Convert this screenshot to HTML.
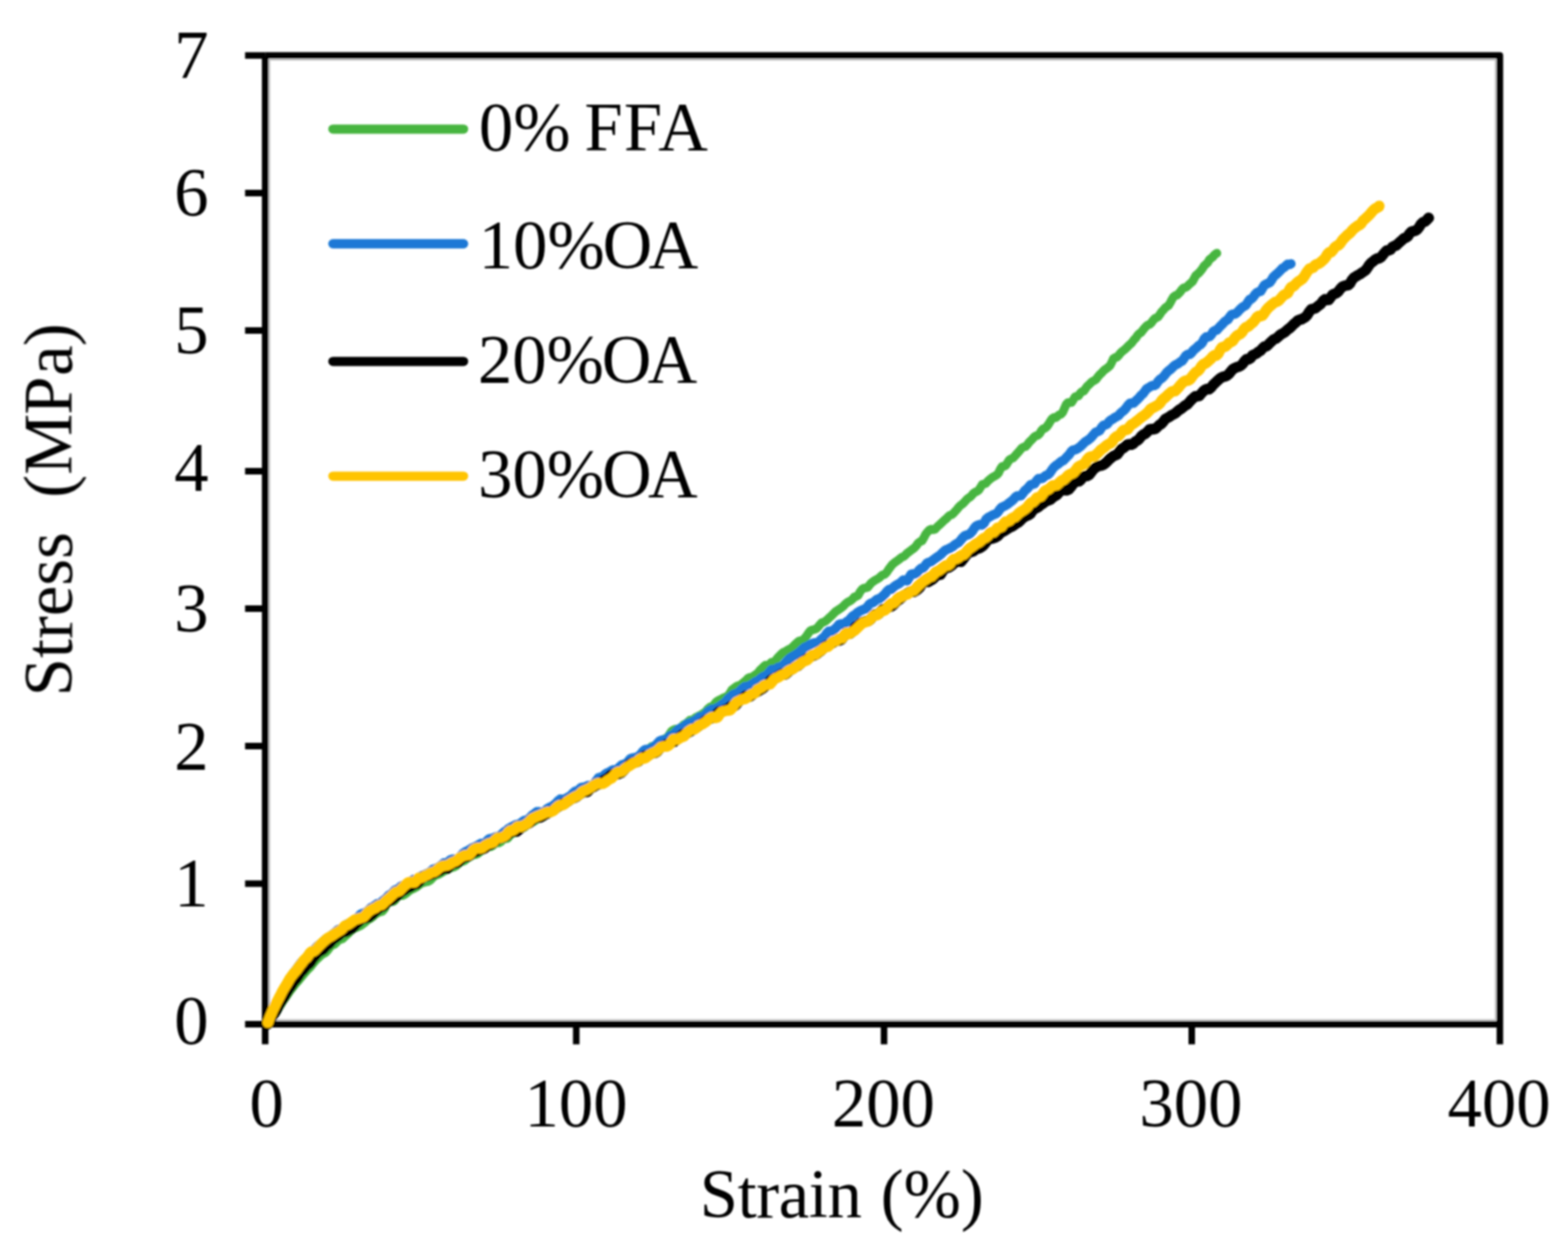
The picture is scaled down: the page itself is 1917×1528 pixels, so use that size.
<!DOCTYPE html>
<html lang="en">
<head>
<meta charset="utf-8">
<title>Stress-strain curves</title>
<style>
html,body{margin:0;padding:0;background:#fff;}
body{width:1917px;height:1528px;overflow:hidden;}
svg{display:block;}
text{font-family:"Liberation Serif",serif;font-size:84px;fill:#000;}
</style>
</head>
<body>
<svg width="1917" height="1528" viewBox="0 0 1917 1528" role="img" aria-label="Stress-strain curves">
<defs><filter id="soft" x="-2%" y="-2%" width="104%" height="104%"><feGaussianBlur stdDeviation="1.1"/></filter></defs>
<rect width="1917" height="1528" fill="#ffffff"/>
<g filter="url(#soft)">
<path d="M329.4,73.0 H1828.5 V1246.8 H329.4 Z" fill="none" stroke="#c4c4c4" stroke-width="2"/>
<g fill="none" stroke="#000" stroke-width="8.0">
<path d="M324.2,67.8 H1833.7 V1252.0" stroke-linejoin="round"/>
<path d="M324.2,67.8 V1276.6" />
<path d="M299.6,1252.0 H1833.7" />
<path d="M299.6,1080.2 H324.2"/>
<path d="M299.6,912.0 H324.2"/>
<path d="M299.6,744.0 H324.2"/>
<path d="M299.6,576.0 H324.2"/>
<path d="M299.6,404.0 H324.2"/>
<path d="M299.6,236.0 H324.2"/>
<path d="M299.6,67.8 H324.2"/>
<path d="M704.5,1252.0 V1276.6"/>
<path d="M1080.8,1252.0 V1276.6"/>
<path d="M1457.0,1252.0 V1276.6"/>
<path d="M1833.7,1252.0 V1276.6"/>
</g>
<g fill="none" stroke-linecap="round" stroke-linejoin="round">
<path stroke="#47b53f" stroke-width="10.6" d="M327.5,1252.4 L329.0,1249.8 L330.6,1247.1 L332.3,1244.7 L334.2,1242.4 L336.0,1239.9 L337.5,1237.6 L339.0,1235.0 L340.5,1232.3 L342.1,1229.9 L343.7,1227.3 L345.3,1224.5 L347.0,1221.9 L348.7,1219.7 L350.4,1217.4 L352.2,1214.7 L354.0,1212.2 L355.7,1209.8 L357.5,1207.6 L359.3,1205.2 L361.1,1202.8 L363.0,1200.8 L364.9,1198.7 L366.8,1196.3 L368.8,1193.9 L370.9,1191.3 L372.9,1188.9 L375.0,1186.6 L377.0,1184.6 L379.0,1182.6 L380.9,1180.0 L382.9,1177.6 L384.9,1175.2 L387.0,1172.9 L389.2,1171.0 L391.3,1169.0 L393.5,1166.9 L395.7,1165.7 L397.9,1164.6 L400.2,1162.2 L402.4,1159.2 L404.6,1156.5 L406.8,1155.1 L409.1,1154.2 L411.5,1151.9 L413.8,1149.3 L416.2,1148.5 L418.6,1147.6 L421.0,1145.3 L423.4,1143.1 L425.9,1141.0 L428.3,1138.4 L430.8,1136.2 L433.3,1134.8 L435.7,1133.8 L438.2,1132.8 L440.6,1131.7 L443.1,1129.9 L445.6,1128.0 L448.0,1125.8 L450.5,1123.8 L452.9,1122.8 L455.4,1120.9 L457.8,1118.5 L460.2,1116.8 L462.6,1115.4 L465.0,1114.7 L467.4,1114.1 L469.7,1111.4 L472.1,1106.4 L474.5,1103.2 L476.9,1102.6 L479.3,1102.3 L481.8,1101.4 L484.3,1098.4 L486.8,1095.1 L489.4,1094.7 L492.0,1094.7 L494.6,1093.4 L497.1,1091.6 L499.7,1089.4 L502.3,1087.6 L504.9,1086.6 L507.4,1085.3 L510.0,1083.7 L512.6,1081.6 L515.2,1079.9 L517.9,1078.9 L520.5,1078.2 L523.1,1077.6 L525.8,1076.3 L528.4,1073.6 L531.0,1071.0 L533.6,1069.6 L536.3,1068.8 L538.9,1067.4 L541.5,1065.6 L544.2,1064.0 L546.8,1062.7 L549.5,1061.7 L552.1,1060.6 L554.8,1059.9 L557.4,1058.6 L560.0,1056.1 L562.7,1053.8 L565.3,1053.1 L568.0,1052.0 L570.6,1049.6 L573.3,1048.1 L575.9,1046.7 L578.6,1044.8 L581.2,1044.6 L583.9,1043.7 L586.5,1041.5 L589.1,1039.6 L591.8,1037.7 L594.4,1036.0 L597.0,1034.9 L599.6,1035.0 L602.2,1033.9 L604.9,1031.4 L607.5,1029.9 L610.1,1030.4 L612.7,1028.7 L615.3,1025.4 L617.9,1025.2 L620.5,1024.9 L623.1,1021.7 L625.7,1019.0 L628.3,1018.3 L630.9,1016.5 L633.5,1013.8 L636.0,1012.4 L638.6,1012.4 L641.2,1011.3 L643.8,1009.0 L646.4,1007.1 L649.0,1005.5 L651.6,1004.7 L654.1,1003.2 L656.7,1001.2 L659.3,1000.1 L661.9,999.5 L664.4,998.2 L667.0,996.2 L669.6,994.1 L672.2,992.6 L674.7,991.3 L677.3,989.9 L679.9,988.1 L682.4,984.8 L685.0,982.4 L687.6,983.7 L690.1,984.1 L692.7,981.1 L695.3,978.2 L697.8,976.3 L700.4,974.8 L702.9,972.8 L705.5,970.5 L708.0,968.8 L710.6,967.6 L713.1,966.7 L715.7,965.6 L718.2,964.2 L720.8,962.9 L723.3,961.7 L725.8,960.9 L728.4,958.8 L730.9,954.9 L733.4,953.2 L736.0,954.5 L738.5,953.9 L741.0,950.5 L743.6,947.7 L746.1,946.7 L748.6,945.7 L751.2,943.7 L753.7,941.8 L756.2,939.2 L758.7,937.0 L761.2,936.5 L763.8,936.2 L766.3,934.7 L768.8,931.9 L771.3,929.7 L773.8,928.8 L776.3,927.4 L778.8,925.5 L781.4,924.1 L783.9,923.1 L786.4,922.0 L788.9,921.0 L791.4,919.1 L793.9,915.6 L796.4,912.5 L798.8,911.8 L801.3,911.2 L803.8,910.0 L806.3,908.0 L808.8,905.7 L811.3,903.8 L813.8,902.6 L816.3,901.1 L818.7,897.2 L821.2,893.6 L823.7,892.2 L826.2,891.2 L828.7,891.1 L831.1,891.1 L833.6,888.2 L836.1,885.6 L838.5,885.0 L841.0,882.5 L843.5,880.4 L845.9,880.3 L848.4,878.8 L850.9,876.9 L853.3,875.8 L855.8,874.5 L858.3,873.0 L860.7,871.4 L863.2,869.5 L865.6,866.3 L868.1,864.3 L870.5,864.0 L873.0,861.3 L875.4,858.3 L877.9,856.4 L880.3,855.2 L882.7,854.1 L885.2,852.7 L887.6,851.9 L890.0,850.5 L892.5,847.0 L894.9,843.2 L897.3,841.3 L899.8,839.5 L902.2,838.2 L904.6,837.8 L907.0,836.0 L909.5,833.9 L911.9,831.9 L914.3,829.2 L916.7,828.0 L919.1,827.9 L921.6,826.3 L924.0,824.5 L926.4,822.9 L928.8,819.7 L931.2,817.4 L933.6,814.9 L936.0,813.0 L938.4,813.7 L940.8,812.0 L943.2,809.6 L945.6,809.4 L948.0,807.6 L950.4,804.4 L952.8,801.9 L955.2,799.5 L957.5,797.5 L959.9,796.6 L962.3,795.0 L964.7,793.6 L967.1,792.6 L969.5,790.4 L971.8,788.1 L974.2,785.8 L976.6,783.8 L979.0,783.3 L981.3,782.5 L983.7,780.3 L986.1,777.4 L988.4,773.9 L990.8,771.0 L993.2,769.9 L995.5,769.6 L997.9,768.4 L1000.2,766.4 L1002.6,763.4 L1004.9,761.0 L1007.3,760.3 L1009.6,759.0 L1012.0,756.8 L1014.3,754.6 L1016.7,752.7 L1019.0,750.2 L1021.4,747.8 L1023.7,746.3 L1026.0,744.8 L1028.4,743.1 L1030.7,741.3 L1033.0,738.8 L1035.4,736.8 L1037.7,735.4 L1040.0,734.2 L1042.4,732.2 L1044.7,729.6 L1047.0,729.0 L1049.3,727.6 L1051.6,723.3 L1054.0,720.3 L1056.3,718.9 L1058.6,718.5 L1060.9,717.9 L1063.2,715.0 L1065.5,712.3 L1067.8,710.7 L1070.1,709.1 L1072.5,707.8 L1074.8,706.5 L1077.1,704.2 L1079.3,702.6 L1081.6,702.2 L1083.9,699.8 L1086.2,696.3 L1088.5,693.3 L1090.8,690.3 L1093.1,688.3 L1095.4,686.6 L1097.7,684.9 L1099.9,683.2 L1102.2,681.4 L1104.5,680.4 L1106.8,678.7 L1109.1,676.2 L1111.3,674.6 L1113.6,672.8 L1115.9,671.2 L1118.1,669.5 L1120.4,666.9 L1122.7,663.6 L1124.9,662.2 L1127.2,661.2 L1129.5,657.3 L1131.7,653.0 L1134.0,650.2 L1136.2,647.9 L1138.5,646.9 L1140.8,647.5 L1143.0,647.1 L1145.3,644.7 L1147.5,642.4 L1149.8,640.4 L1152.0,638.3 L1154.3,636.2 L1156.5,634.4 L1158.7,632.2 L1161.0,630.0 L1163.2,629.3 L1165.5,627.7 L1167.7,625.1 L1169.9,622.8 L1172.2,619.9 L1174.4,617.6 L1176.6,616.2 L1178.8,614.1 L1181.1,611.5 L1183.3,609.2 L1185.5,607.9 L1187.7,606.0 L1190.0,603.1 L1192.2,601.6 L1194.4,600.6 L1196.6,599.1 L1198.8,595.7 L1201.0,592.1 L1203.2,591.6 L1205.5,590.7 L1207.7,588.1 L1209.9,586.1 L1212.1,584.4 L1214.3,582.9 L1216.5,581.8 L1218.7,580.4 L1220.9,577.9 L1223.1,573.3 L1225.3,570.1 L1227.5,570.0 L1229.7,568.9 L1231.9,565.4 L1234.1,562.0 L1236.3,560.7 L1238.5,559.8 L1240.6,557.6 L1242.8,555.2 L1245.0,552.7 L1247.2,550.1 L1249.4,547.6 L1251.6,546.4 L1253.7,545.9 L1255.9,543.7 L1258.1,540.8 L1260.3,538.6 L1262.5,536.3 L1264.6,533.9 L1266.8,532.7 L1269.0,532.1 L1271.1,530.0 L1273.3,526.3 L1275.5,524.1 L1277.7,523.4 L1279.8,521.5 L1282.0,518.5 L1284.1,515.0 L1286.3,511.7 L1288.5,510.4 L1290.6,510.5 L1292.8,509.0 L1294.9,507.0 L1297.1,506.4 L1299.2,504.2 L1301.4,499.1 L1303.6,494.2 L1305.7,492.1 L1307.9,492.1 L1310.0,492.0 L1312.1,488.9 L1314.3,485.0 L1316.4,484.4 L1318.6,484.0 L1320.7,480.7 L1322.9,478.6 L1325.0,478.1 L1327.1,475.1 L1329.3,472.0 L1331.4,470.2 L1333.6,468.0 L1335.7,466.1 L1337.8,465.3 L1340.0,463.7 L1342.1,460.9 L1344.2,458.3 L1346.3,456.4 L1348.5,453.9 L1350.6,452.0 L1352.7,450.6 L1354.8,449.0 L1357.0,447.1 L1359.1,443.1 L1361.2,438.5 L1363.3,437.1 L1365.4,436.8 L1367.6,434.6 L1369.7,431.8 L1371.8,429.7 L1373.9,428.1 L1376.0,426.4 L1378.1,424.4 L1380.2,422.1 L1382.3,420.4 L1384.5,417.9 L1386.6,415.1 L1388.7,413.1 L1390.8,409.9 L1392.9,407.7 L1395.0,406.4 L1397.1,403.7 L1399.2,401.1 L1401.3,398.9 L1403.4,397.2 L1405.5,396.5 L1407.6,394.6 L1409.7,391.6 L1411.8,389.4 L1413.9,388.4 L1416.0,387.3 L1418.1,384.3 L1420.2,381.0 L1422.3,379.0 L1424.3,376.5 L1426.4,374.9 L1428.5,373.6 L1430.6,370.2 L1432.7,366.2 L1434.8,362.8 L1436.9,361.4 L1439.0,360.7 L1441.0,358.9 L1443.1,356.6 L1445.2,353.6 L1447.3,351.7 L1449.4,351.5 L1451.4,350.3 L1453.5,348.0 L1455.6,346.2 L1457.7,344.5 L1459.7,341.0 L1461.8,337.0 L1463.9,335.1 L1465.9,333.5 L1468.0,331.1 L1470.1,328.3 L1472.2,324.9 L1474.2,323.1 L1476.3,321.3 L1478.4,317.7 L1480.4,315.8 L1482.5,314.4 L1484.5,311.9 L1486.6,310.2 L1487.7,309.5"/>
<path stroke="#1a78d6" stroke-width="11.6" d="M327.5,1250.0 L328.6,1247.0 L329.7,1244.2 L330.8,1241.6 L332.0,1238.7 L333.2,1235.9 L334.4,1233.3 L335.6,1230.4 L336.9,1227.6 L338.3,1225.1 L339.6,1222.7 L341.0,1220.3 L342.3,1217.3 L343.7,1214.4 L345.1,1211.8 L346.6,1209.2 L348.0,1206.7 L349.5,1204.2 L351.0,1201.4 L352.6,1198.7 L354.2,1196.1 L355.9,1193.8 L357.7,1191.4 L359.4,1188.7 L361.2,1186.3 L363.0,1183.9 L364.8,1181.3 L366.6,1178.6 L368.5,1176.3 L370.5,1174.4 L372.5,1172.9 L374.5,1170.8 L376.6,1167.6 L378.6,1165.6 L380.7,1164.4 L382.8,1162.6 L385.0,1160.0 L387.2,1157.3 L389.4,1155.6 L391.7,1153.9 L394.1,1152.0 L396.4,1149.7 L398.7,1147.7 L401.1,1147.1 L403.4,1145.6 L405.8,1142.9 L408.2,1140.9 L410.6,1138.9 L413.1,1136.7 L415.6,1135.7 L418.2,1134.6 L420.7,1132.3 L423.2,1130.3 L425.7,1129.0 L428.2,1128.2 L430.8,1126.8 L433.3,1124.4 L435.8,1122.8 L438.3,1120.6 L440.9,1117.7 L443.4,1116.5 L445.9,1115.8 L448.5,1114.6 L451.0,1112.3 L453.5,1109.6 L456.1,1108.5 L458.6,1106.7 L461.0,1104.9 L463.4,1104.7 L465.8,1103.4 L468.2,1101.0 L470.5,1099.3 L472.9,1097.2 L475.2,1094.6 L477.6,1093.2 L480.0,1091.4 L482.5,1088.2 L485.0,1087.3 L487.5,1086.4 L490.1,1083.4 L492.7,1082.4 L495.2,1082.3 L497.8,1081.9 L500.4,1080.4 L503.0,1077.0 L505.6,1075.1 L508.2,1075.7 L510.8,1074.6 L513.5,1071.9 L516.1,1070.5 L518.7,1069.6 L521.4,1068.2 L524.0,1067.1 L526.7,1065.1 L529.3,1062.6 L532.0,1062.0 L534.6,1061.0 L537.3,1059.4 L539.9,1057.4 L542.6,1054.9 L545.2,1054.8 L547.9,1053.7 L550.5,1051.2 L553.2,1050.2 L555.9,1050.3 L558.5,1050.9 L561.2,1049.5 L563.8,1045.9 L566.5,1042.8 L569.2,1041.1 L571.8,1039.9 L574.5,1038.3 L577.1,1036.6 L579.8,1035.5 L582.4,1034.4 L585.1,1032.8 L587.8,1031.0 L590.4,1031.0 L593.1,1030.9 L595.7,1027.5 L598.3,1025.3 L601.0,1025.1 L603.6,1024.0 L606.3,1023.1 L608.9,1022.7 L611.5,1021.6 L614.2,1019.1 L616.8,1016.7 L619.4,1015.1 L622.1,1012.7 L624.7,1011.2 L627.3,1009.9 L629.9,1008.5 L632.6,1008.0 L635.2,1007.2 L637.8,1005.3 L640.4,1003.2 L643.1,1002.6 L645.7,1001.7 L648.3,999.0 L650.9,996.4 L653.5,994.7 L656.2,992.3 L658.8,992.3 L661.4,994.6 L664.0,993.9 L666.6,991.0 L669.2,988.4 L671.8,986.9 L674.5,985.9 L677.1,984.1 L679.7,981.9 L682.3,979.0 L684.9,976.9 L687.5,977.0 L690.1,977.0 L692.7,975.4 L695.3,973.9 L697.9,972.6 L700.5,969.6 L703.1,967.3 L705.7,966.9 L708.3,964.7 L710.9,962.5 L713.5,962.2 L716.1,961.7 L718.7,960.2 L721.3,960.4 L723.9,960.9 L726.5,958.3 L729.1,954.2 L731.7,950.8 L734.3,950.0 L736.9,949.5 L739.5,946.8 L742.1,944.9 L744.6,944.0 L747.2,942.3 L749.8,941.0 L752.4,941.1 L755.0,940.1 L757.6,937.3 L760.2,935.0 L762.7,934.2 L765.3,933.4 L767.9,930.8 L770.5,927.7 L773.1,926.6 L775.6,926.4 L778.2,925.6 L780.8,924.4 L783.4,921.9 L785.9,918.6 L788.5,916.4 L791.1,916.0 L793.6,916.3 L796.2,914.8 L798.8,913.1 L801.3,911.5 L803.9,908.5 L806.5,905.8 L809.0,904.7 L811.6,904.5 L814.1,904.4 L816.7,902.1 L819.3,899.2 L821.8,898.4 L824.4,896.9 L826.9,894.1 L829.5,891.7 L832.0,890.0 L834.6,889.3 L837.2,887.7 L839.7,885.1 L842.3,884.1 L844.8,883.4 L847.4,881.9 L849.9,880.9 L852.5,879.3 L855.0,876.7 L857.5,876.1 L860.1,876.2 L862.6,873.4 L865.2,870.3 L867.7,868.5 L870.3,867.1 L872.8,866.9 L875.3,866.1 L877.9,864.7 L880.4,863.0 L882.9,861.1 L885.5,859.5 L888.0,857.0 L890.5,854.0 L893.1,851.9 L895.6,849.7 L898.1,848.4 L900.6,848.3 L903.2,846.1 L905.7,843.8 L908.2,841.4 L910.7,839.5 L913.3,839.3 L915.8,838.4 L918.3,837.2 L920.8,835.7 L923.3,833.8 L925.9,832.6 L928.4,831.2 L930.9,828.8 L933.4,827.2 L935.9,826.2 L938.4,824.5 L940.9,821.5 L943.4,818.6 L946.0,818.3 L948.5,817.9 L951.0,816.1 L953.5,815.4 L956.0,814.6 L958.5,812.2 L961.0,809.5 L963.5,806.7 L966.0,804.5 L968.5,802.9 L971.0,801.4 L973.5,800.0 L976.0,798.3 L978.5,796.3 L981.0,793.7 L983.5,791.7 L985.9,790.7 L988.4,789.3 L990.9,787.8 L993.4,786.5 L995.9,785.8 L998.4,785.7 L1000.9,784.7 L1003.3,782.1 L1005.8,779.9 L1008.3,778.0 L1010.8,774.1 L1013.3,771.6 L1015.7,771.7 L1018.2,770.8 L1020.7,768.9 L1023.2,766.5 L1025.6,763.5 L1028.1,762.6 L1030.6,763.4 L1033.1,761.8 L1035.5,759.6 L1038.0,758.1 L1040.5,755.1 L1042.9,752.8 L1045.4,751.4 L1047.9,749.1 L1050.3,747.5 L1052.8,746.3 L1055.2,745.1 L1057.7,744.4 L1060.2,742.2 L1062.6,738.9 L1065.1,737.2 L1067.5,736.4 L1070.0,734.5 L1072.4,732.5 L1074.9,731.8 L1077.3,730.3 L1079.8,728.1 L1082.2,725.8 L1084.7,722.5 L1087.1,720.6 L1089.6,720.3 L1092.0,718.2 L1094.5,716.0 L1096.9,714.7 L1099.3,713.4 L1101.8,711.5 L1104.2,709.1 L1106.6,709.2 L1109.1,709.9 L1111.5,705.9 L1113.9,702.0 L1116.4,701.6 L1118.8,701.4 L1121.2,699.9 L1123.7,696.9 L1126.1,694.8 L1128.5,694.3 L1130.9,691.6 L1133.4,688.3 L1135.8,687.3 L1138.2,686.5 L1140.6,684.8 L1143.1,682.8 L1145.5,681.2 L1147.9,679.6 L1150.3,677.6 L1152.7,675.2 L1155.1,673.0 L1157.5,671.8 L1160.0,670.7 L1162.4,669.5 L1164.8,668.2 L1167.2,665.9 L1169.6,664.5 L1172.0,663.2 L1174.4,660.4 L1176.8,657.5 L1179.2,655.2 L1181.6,654.2 L1184.0,653.6 L1186.4,651.9 L1188.8,649.3 L1191.2,645.5 L1193.6,642.9 L1196.0,641.8 L1198.4,641.2 L1200.8,641.7 L1203.2,639.3 L1205.5,634.9 L1207.9,632.7 L1210.3,631.5 L1212.7,630.2 L1215.1,628.9 L1217.5,628.1 L1219.8,626.4 L1222.2,622.8 L1224.6,620.1 L1227.0,619.1 L1229.4,618.0 L1231.7,616.5 L1234.1,614.5 L1236.5,612.8 L1238.9,610.7 L1241.2,608.0 L1243.6,606.2 L1246.0,606.2 L1248.3,605.8 L1250.7,602.8 L1253.1,599.6 L1255.4,597.8 L1257.8,595.1 L1260.2,592.4 L1262.5,592.0 L1264.9,591.2 L1267.2,587.8 L1269.6,585.0 L1271.9,585.0 L1274.3,584.7 L1276.7,582.7 L1279.0,581.1 L1281.4,580.2 L1283.7,577.9 L1286.1,574.3 L1288.4,571.3 L1290.7,569.2 L1293.1,567.7 L1295.4,565.8 L1297.8,563.9 L1300.1,562.9 L1302.5,560.5 L1304.8,558.1 L1307.1,555.7 L1309.5,552.2 L1311.8,550.2 L1314.1,549.8 L1316.5,548.8 L1318.8,547.3 L1321.1,545.7 L1323.4,543.4 L1325.8,540.9 L1328.1,539.2 L1330.4,537.9 L1332.8,535.9 L1335.1,533.5 L1337.4,530.8 L1339.7,528.2 L1342.0,527.5 L1344.4,526.3 L1346.7,522.7 L1349.0,519.9 L1351.3,519.4 L1353.6,518.3 L1355.9,515.4 L1358.2,513.4 L1360.6,512.2 L1362.9,510.4 L1365.2,509.3 L1367.5,508.0 L1369.8,505.3 L1372.1,503.2 L1374.4,501.6 L1376.7,498.8 L1379.0,495.6 L1381.3,493.2 L1383.6,492.6 L1385.9,492.6 L1388.2,490.5 L1390.5,488.3 L1392.8,486.0 L1395.0,483.3 L1397.3,481.5 L1399.6,478.4 L1401.9,475.3 L1404.2,474.0 L1406.5,472.5 L1408.8,471.2 L1411.1,471.2 L1413.3,470.1 L1415.6,466.6 L1417.9,463.9 L1420.2,462.5 L1422.4,460.5 L1424.7,457.6 L1427.0,454.7 L1429.3,452.8 L1431.5,451.2 L1433.8,448.9 L1436.1,446.6 L1438.3,445.5 L1440.6,444.3 L1442.9,442.5 L1445.1,441.4 L1447.4,438.4 L1449.7,434.8 L1451.9,433.4 L1454.2,433.3 L1456.4,431.6 L1458.7,428.6 L1460.9,426.6 L1463.2,424.7 L1465.5,422.5 L1467.7,421.2 L1470.0,418.7 L1472.2,414.3 L1474.5,411.9 L1476.7,411.9 L1478.9,411.2 L1481.2,408.7 L1483.4,405.1 L1485.7,403.9 L1487.9,403.3 L1490.2,400.6 L1492.4,398.2 L1494.6,396.1 L1496.9,393.5 L1499.1,391.9 L1501.3,390.5 L1503.6,387.1 L1505.8,384.4 L1508.0,384.0 L1510.3,383.7 L1512.5,382.0 L1514.7,379.6 L1516.9,377.3 L1519.2,375.3 L1521.4,374.1 L1523.6,372.6 L1525.8,369.0 L1528.0,366.0 L1530.3,365.2 L1532.5,362.8 L1534.7,359.6 L1536.9,357.5 L1539.1,356.6 L1541.3,356.0 L1543.5,352.3 L1545.7,348.6 L1547.9,347.4 L1550.2,346.4 L1552.4,345.3 L1554.6,342.3 L1556.8,338.5 L1559.0,336.5 L1561.2,334.6 L1563.4,332.7 L1565.6,330.3 L1567.8,328.0 L1570.0,326.9 L1572.1,324.9 L1574.3,323.1 L1576.5,323.2 L1578.2,322.6"/>
<path stroke="#000000" stroke-width="13.0" d="M327.5,1251.9 L328.9,1249.4 L330.4,1246.5 L331.9,1243.8 L333.6,1241.4 L335.3,1239.0 L336.9,1236.4 L338.3,1233.8 L339.7,1231.1 L341.2,1228.4 L342.7,1225.8 L344.2,1223.5 L345.7,1221.2 L347.3,1218.7 L348.9,1215.9 L350.6,1213.1 L352.3,1210.4 L353.9,1207.9 L355.6,1205.7 L357.3,1203.0 L359.0,1200.3 L360.7,1198.4 L362.5,1196.4 L364.2,1193.7 L366.1,1190.7 L367.9,1188.5 L369.8,1186.6 L371.8,1184.1 L373.8,1181.6 L375.8,1179.6 L377.8,1178.2 L379.8,1176.0 L381.8,1172.7 L383.8,1170.0 L386.0,1167.6 L388.1,1165.0 L390.3,1163.2 L392.5,1162.1 L394.8,1160.9 L397.0,1158.4 L399.3,1155.8 L401.5,1154.4 L403.8,1152.1 L406.1,1149.3 L408.4,1147.6 L410.7,1146.0 L413.1,1144.3 L415.5,1142.2 L417.9,1139.9 L420.4,1139.1 L422.8,1139.0 L425.3,1137.7 L427.8,1136.2 L430.3,1134.8 L432.8,1132.5 L435.3,1129.7 L437.8,1127.5 L440.3,1124.9 L442.8,1122.6 L445.3,1121.6 L447.8,1122.0 L450.3,1121.3 L452.8,1119.3 L455.3,1117.6 L457.7,1114.9 L460.2,1112.8 L462.6,1110.9 L465.0,1108.6 L467.3,1108.3 L469.6,1107.1 L472.0,1104.0 L474.3,1102.1 L476.7,1101.1 L479.1,1100.0 L481.5,1098.1 L484.0,1096.0 L486.5,1094.2 L489.1,1091.4 L491.6,1089.3 L494.2,1088.3 L496.7,1086.2 L499.3,1085.1 L501.9,1084.0 L504.5,1081.8 L507.1,1081.0 L509.7,1080.4 L512.3,1077.9 L515.0,1074.1 L517.6,1071.3 L520.3,1070.9 L522.9,1070.8 L525.5,1069.5 L528.2,1068.3 L530.8,1067.5 L533.5,1066.0 L536.1,1065.0 L538.8,1063.8 L541.4,1061.6 L544.1,1061.2 L546.8,1061.8 L549.4,1059.3 L552.1,1055.8 L554.7,1054.9 L557.4,1055.0 L560.1,1054.1 L562.7,1051.6 L565.4,1049.0 L568.0,1047.7 L570.7,1047.4 L573.4,1046.0 L576.0,1043.8 L578.7,1042.2 L581.3,1041.3 L584.0,1040.2 L586.7,1038.6 L589.3,1037.8 L592.0,1037.2 L594.6,1035.0 L597.3,1033.1 L599.9,1032.2 L602.6,1030.4 L605.2,1028.5 L607.8,1026.0 L610.5,1024.0 L613.1,1024.0 L615.8,1023.4 L618.4,1021.9 L621.0,1020.1 L623.6,1017.9 L626.3,1016.2 L628.9,1016.3 L631.5,1016.6 L634.2,1014.4 L636.8,1011.7 L639.4,1010.2 L642.0,1008.2 L644.7,1006.9 L647.3,1006.1 L649.9,1003.4 L652.5,1000.5 L655.2,999.8 L657.8,999.6 L660.4,999.2 L663.0,997.9 L665.7,995.8 L668.3,994.7 L670.9,993.3 L673.5,991.6 L676.1,990.7 L678.8,988.7 L681.4,986.7 L684.0,985.3 L686.6,983.2 L689.2,981.8 L691.8,981.1 L694.5,979.5 L697.1,977.4 L699.7,976.0 L702.3,975.3 L704.9,974.0 L707.5,971.8 L710.1,970.1 L712.7,968.3 L715.3,967.5 L717.9,968.0 L720.6,965.1 L723.2,962.4 L725.8,961.8 L728.4,960.0 L731.0,958.9 L733.6,957.9 L736.2,955.3 L738.8,953.2 L741.4,951.9 L744.0,950.1 L746.6,947.5 L749.2,946.2 L751.8,946.5 L754.4,946.5 L757.0,945.7 L759.6,944.5 L762.2,942.0 L764.8,939.0 L767.4,936.4 L770.0,933.8 L772.6,932.3 L775.2,931.9 L777.7,931.8 L780.3,930.7 L782.9,928.2 L785.5,925.6 L788.1,923.8 L790.7,923.4 L793.3,923.0 L795.9,921.3 L798.5,920.0 L801.0,920.2 L803.6,918.6 L806.2,915.2 L808.8,912.8 L811.4,911.5 L814.0,910.4 L816.5,909.2 L819.1,908.2 L821.7,907.5 L824.3,906.6 L826.9,904.5 L829.5,901.9 L832.0,899.9 L834.6,897.7 L837.2,896.8 L839.8,896.5 L842.3,895.0 L844.9,893.6 L847.5,891.3 L850.1,889.6 L852.6,888.6 L855.2,886.6 L857.8,884.6 L860.4,882.6 L862.9,880.6 L865.5,879.0 L868.1,878.3 L870.7,877.8 L873.2,876.5 L875.8,873.8 L878.4,870.2 L880.9,869.4 L883.5,869.3 L886.1,867.8 L888.6,867.0 L891.2,865.2 L893.8,862.9 L896.3,862.7 L898.9,862.6 L901.4,859.7 L904.0,856.6 L906.6,854.6 L909.1,852.6 L911.7,850.5 L914.2,850.5 L916.8,851.4 L919.4,849.6 L921.9,847.1 L924.5,846.2 L927.0,845.0 L929.6,843.2 L932.1,842.0 L934.7,839.7 L937.3,837.5 L939.8,835.1 L942.4,831.2 L944.9,829.8 L947.5,829.3 L950.0,827.3 L952.6,825.7 L955.1,824.0 L957.7,823.8 L960.2,824.4 L962.8,822.1 L965.3,819.6 L967.9,818.2 L970.4,816.3 L973.0,814.8 L975.5,813.9 L978.0,811.8 L980.6,808.9 L983.1,807.7 L985.7,805.9 L988.2,803.8 L990.8,802.8 L993.3,801.6 L995.8,801.0 L998.4,799.6 L1000.9,797.4 L1003.5,795.7 L1006.0,793.2 L1008.5,790.3 L1011.1,788.9 L1013.6,788.0 L1016.2,786.7 L1018.7,785.6 L1021.2,783.8 L1023.8,782.4 L1026.3,782.9 L1028.8,781.8 L1031.4,778.1 L1033.9,775.6 L1036.4,774.8 L1039.0,774.6 L1041.5,772.6 L1044.0,768.6 L1046.5,765.8 L1049.1,764.0 L1051.6,761.9 L1054.1,760.7 L1056.7,760.1 L1059.2,759.2 L1061.7,759.1 L1064.2,757.3 L1066.8,753.5 L1069.3,751.2 L1071.8,750.9 L1074.3,750.4 L1076.9,747.2 L1079.4,744.6 L1081.9,744.3 L1084.4,743.2 L1086.9,741.9 L1089.5,741.3 L1092.0,739.6 L1094.5,736.9 L1097.0,734.5 L1099.5,732.9 L1102.1,730.6 L1104.6,728.1 L1107.1,726.9 L1109.6,725.3 L1112.1,723.7 L1114.6,723.2 L1117.2,723.4 L1119.7,722.1 L1122.2,720.2 L1124.7,717.8 L1127.2,713.5 L1129.7,710.8 L1132.2,711.2 L1134.7,711.3 L1137.3,709.8 L1139.8,708.5 L1142.3,706.2 L1144.8,703.1 L1147.3,702.8 L1149.8,702.4 L1152.3,698.5 L1154.8,695.1 L1157.3,694.3 L1159.8,693.7 L1162.3,692.2 L1164.8,690.2 L1167.3,687.7 L1169.9,685.8 L1172.4,686.3 L1174.9,686.7 L1177.4,683.8 L1179.9,680.2 L1182.4,677.4 L1184.9,675.0 L1187.4,674.7 L1189.9,673.8 L1192.4,671.8 L1194.9,670.8 L1197.4,670.0 L1199.9,668.6 L1202.4,666.6 L1204.9,663.6 L1207.3,660.3 L1209.8,658.7 L1212.3,658.4 L1214.8,657.7 L1217.3,656.8 L1219.8,655.3 L1222.3,652.4 L1224.8,650.4 L1227.3,649.3 L1229.8,647.7 L1232.3,646.0 L1234.8,644.6 L1237.3,643.5 L1239.8,641.8 L1242.2,640.1 L1244.7,638.8 L1247.2,636.6 L1249.7,633.8 L1252.2,632.1 L1254.7,630.8 L1257.2,629.8 L1259.6,628.2 L1262.1,624.6 L1264.6,621.8 L1267.1,621.0 L1269.6,619.6 L1272.1,617.4 L1274.5,616.0 L1277.0,614.0 L1279.5,612.1 L1282.0,611.6 L1284.5,610.5 L1286.9,608.3 L1289.4,606.5 L1291.9,605.1 L1294.4,602.3 L1296.9,599.3 L1299.3,598.8 L1301.8,599.2 L1304.3,599.2 L1306.7,598.2 L1309.2,595.3 L1311.7,591.9 L1314.2,589.4 L1316.6,588.6 L1319.1,588.3 L1321.6,586.3 L1324.0,583.3 L1326.5,582.0 L1329.0,581.8 L1331.4,580.7 L1333.9,577.5 L1336.4,574.2 L1338.8,572.1 L1341.3,570.5 L1343.8,569.4 L1346.2,569.1 L1348.7,568.2 L1351.2,566.4 L1353.6,564.2 L1356.1,561.6 L1358.5,559.5 L1361.0,557.6 L1363.5,556.5 L1365.9,555.5 L1368.4,552.3 L1370.8,549.0 L1373.3,547.7 L1375.7,545.9 L1378.2,543.6 L1380.7,543.0 L1383.1,543.6 L1385.6,542.4 L1388.0,539.7 L1390.5,538.4 L1392.9,536.4 L1395.4,533.1 L1397.8,531.3 L1400.3,530.2 L1402.7,527.8 L1405.2,525.1 L1407.6,524.4 L1410.0,524.7 L1412.5,524.1 L1414.9,522.0 L1417.4,519.5 L1419.8,518.2 L1422.3,515.4 L1424.7,512.2 L1427.1,510.9 L1429.6,509.6 L1432.0,507.8 L1434.5,506.5 L1436.9,505.3 L1439.3,503.0 L1441.8,500.9 L1444.2,499.7 L1446.6,497.6 L1449.1,495.6 L1451.5,494.4 L1453.9,491.7 L1456.4,488.9 L1458.8,486.7 L1461.2,484.6 L1463.7,484.4 L1466.1,484.1 L1468.5,481.2 L1470.9,478.5 L1473.4,476.3 L1475.8,475.5 L1478.2,475.7 L1480.6,473.7 L1483.1,470.5 L1485.5,468.2 L1487.9,465.9 L1490.3,463.7 L1492.7,461.8 L1495.2,460.6 L1497.6,460.1 L1500.0,459.2 L1502.4,457.1 L1504.8,454.1 L1507.2,451.4 L1509.7,449.9 L1512.1,448.8 L1514.5,448.2 L1516.9,447.0 L1519.3,444.8 L1521.7,441.3 L1524.1,438.9 L1526.5,439.2 L1528.9,437.7 L1531.3,434.2 L1533.8,433.2 L1536.2,432.1 L1538.6,430.0 L1541.0,428.8 L1543.4,426.0 L1545.8,423.7 L1548.2,423.4 L1550.6,421.3 L1553.0,418.8 L1555.4,416.6 L1557.8,414.6 L1560.2,413.8 L1562.6,411.8 L1565.0,409.5 L1567.3,408.0 L1569.7,406.8 L1572.1,405.0 L1574.5,402.6 L1576.9,401.0 L1579.3,398.7 L1581.7,396.2 L1584.1,394.3 L1586.5,392.0 L1588.9,390.9 L1591.2,390.3 L1593.6,388.9 L1596.0,387.4 L1598.4,384.9 L1600.8,380.9 L1603.2,378.1 L1605.5,377.5 L1607.9,377.0 L1610.3,375.0 L1612.7,373.1 L1615.0,371.3 L1617.4,368.0 L1619.8,365.9 L1622.2,366.7 L1624.5,366.6 L1626.9,363.4 L1629.3,360.1 L1631.7,359.2 L1634.0,358.3 L1636.4,356.1 L1638.8,352.9 L1641.1,350.5 L1643.5,349.5 L1645.9,348.9 L1648.2,348.6 L1650.6,346.4 L1652.9,342.2 L1655.3,339.4 L1657.7,338.0 L1660.0,336.5 L1662.4,335.3 L1664.7,333.7 L1667.1,332.1 L1669.4,330.5 L1671.8,327.3 L1674.2,323.6 L1676.5,321.1 L1678.9,319.5 L1681.2,317.4 L1683.6,316.0 L1685.9,315.9 L1688.3,314.5 L1690.6,311.6 L1693.0,308.7 L1695.3,306.3 L1697.6,306.0 L1700.0,305.2 L1702.3,301.9 L1704.7,300.6 L1707.0,300.1 L1709.4,297.7 L1711.7,295.6 L1714.0,293.7 L1716.4,291.3 L1718.7,290.6 L1721.0,289.1 L1723.4,285.4 L1725.7,283.0 L1728.0,282.5 L1730.4,282.1 L1732.7,280.6 L1735.0,277.6 L1737.3,273.9 L1739.7,271.6 L1742.0,270.9 L1744.3,269.0 L1746.6,266.3 L1746.8,266.6"/>
<path stroke="#ffc400" stroke-width="13.2" d="M327.5,1250.0 L328.6,1247.2 L329.7,1244.3 L330.8,1241.6 L332.0,1238.7 L333.2,1235.8 L334.4,1233.2 L335.7,1230.7 L337.0,1228.0 L338.3,1225.2 L339.7,1222.6 L341.0,1220.0 L342.4,1217.4 L343.8,1214.6 L345.2,1211.8 L346.7,1209.2 L348.1,1206.8 L349.6,1204.5 L351.2,1201.9 L352.8,1199.0 L354.4,1196.2 L356.1,1193.9 L357.9,1191.5 L359.7,1189.2 L361.4,1187.4 L363.2,1185.2 L365.0,1182.5 L366.9,1179.8 L368.9,1177.5 L370.8,1174.7 L372.9,1172.4 L374.9,1170.8 L376.9,1168.1 L379.0,1164.9 L381.1,1163.2 L383.3,1162.7 L385.5,1161.5 L387.7,1159.0 L390.0,1156.4 L392.3,1154.2 L394.6,1152.0 L397.0,1150.0 L399.3,1147.9 L401.7,1146.2 L404.0,1145.0 L406.4,1143.4 L408.9,1141.7 L411.3,1140.2 L413.9,1138.5 L416.4,1137.1 L418.9,1134.9 L421.4,1132.0 L424.0,1130.8 L426.5,1129.6 L429.0,1127.7 L431.6,1125.9 L434.1,1124.1 L436.6,1123.5 L439.2,1122.6 L441.7,1121.8 L444.3,1121.1 L446.8,1118.5 L449.4,1115.4 L451.9,1113.4 L454.4,1111.8 L457.0,1110.5 L459.5,1109.5 L461.9,1107.4 L464.3,1106.3 L466.7,1106.2 L469.1,1104.0 L471.4,1101.4 L473.8,1099.5 L476.2,1097.2 L478.6,1095.2 L481.0,1092.8 L483.5,1090.5 L486.1,1090.0 L488.6,1088.9 L491.2,1086.0 L493.8,1083.4 L496.4,1081.1 L499.0,1079.0 L501.5,1078.1 L504.2,1078.5 L506.8,1078.5 L509.4,1075.6 L512.1,1073.2 L514.7,1073.1 L517.4,1072.0 L520.0,1070.4 L522.7,1069.3 L525.4,1067.7 L528.0,1066.4 L530.7,1065.8 L533.3,1064.2 L536.0,1061.8 L538.7,1059.8 L541.3,1058.5 L544.0,1058.1 L546.7,1057.7 L549.4,1056.5 L552.0,1054.7 L554.7,1053.4 L557.4,1052.5 L560.1,1050.4 L562.8,1048.2 L565.4,1046.8 L568.1,1045.6 L570.8,1045.2 L573.5,1045.1 L576.1,1042.3 L578.8,1038.7 L581.5,1037.1 L584.2,1036.5 L586.8,1037.1 L589.5,1036.4 L592.2,1034.1 L594.9,1032.4 L597.5,1031.1 L600.2,1030.5 L602.8,1029.7 L605.5,1026.5 L608.2,1024.2 L610.8,1024.2 L613.5,1023.6 L616.1,1022.4 L618.8,1020.6 L621.4,1017.1 L624.1,1015.1 L626.7,1015.3 L629.4,1013.5 L632.0,1010.7 L634.7,1010.0 L637.3,1010.4 L639.9,1009.2 L642.6,1007.7 L645.2,1006.1 L647.9,1003.3 L650.5,1000.8 L653.2,999.4 L655.8,998.2 L658.4,997.2 L661.1,996.0 L663.7,994.9 L666.4,993.6 L669.0,992.7 L671.6,992.5 L674.3,992.2 L676.9,990.6 L679.5,987.9 L682.2,985.5 L684.8,984.2 L687.4,984.1 L690.1,982.9 L692.7,980.3 L695.3,978.6 L698.0,976.9 L700.6,975.2 L703.2,973.9 L705.9,972.7 L708.5,971.0 L711.1,968.3 L713.7,966.7 L716.4,965.8 L719.0,964.4 L721.6,962.9 L724.2,961.1 L726.8,959.5 L729.5,958.0 L732.1,957.4 L734.7,958.0 L737.3,957.9 L739.9,956.4 L742.5,954.2 L745.2,952.5 L747.8,951.1 L750.4,948.4 L753.0,945.2 L755.6,943.5 L758.2,943.4 L760.8,942.6 L763.4,940.0 L766.1,937.9 L768.7,936.6 L771.3,935.0 L773.9,933.0 L776.5,932.0 L779.1,931.1 L781.7,928.2 L784.3,926.7 L786.9,927.3 L789.5,926.5 L792.1,924.1 L794.7,922.1 L797.3,920.7 L799.9,919.6 L802.5,918.4 L805.1,915.9 L807.7,913.5 L810.3,912.5 L812.9,912.3 L815.4,912.4 L818.0,910.8 L820.6,907.0 L823.2,903.6 L825.8,903.3 L828.4,904.0 L831.0,902.1 L833.6,900.9 L836.2,900.0 L838.7,896.9 L841.3,894.4 L843.9,892.5 L846.5,891.2 L849.1,891.4 L851.6,889.6 L854.2,886.7 L856.8,885.9 L859.4,884.8 L862.0,883.1 L864.5,881.1 L867.1,878.6 L869.7,876.9 L872.3,876.6 L874.8,877.6 L877.4,876.7 L880.0,872.7 L882.5,870.0 L885.1,869.5 L887.7,868.7 L890.2,868.4 L892.8,867.9 L895.4,865.2 L897.9,861.2 L900.5,858.2 L903.0,857.0 L905.6,855.7 L908.2,854.6 L910.7,854.4 L913.3,853.0 L915.8,850.4 L918.4,848.6 L920.9,848.2 L923.5,846.3 L926.0,842.9 L928.6,841.6 L931.1,840.3 L933.7,838.2 L936.2,837.0 L938.8,836.9 L941.3,836.4 L943.9,833.6 L946.4,830.3 L949.0,828.7 L951.5,827.9 L954.0,826.1 L956.6,824.8 L959.1,824.0 L961.7,821.9 L964.2,819.7 L966.7,818.6 L969.3,817.7 L971.8,815.8 L974.3,814.1 L976.9,812.4 L979.4,810.5 L981.9,808.9 L984.4,807.7 L987.0,806.8 L989.5,804.2 L992.0,800.9 L994.5,800.3 L997.1,800.0 L999.6,797.6 L1002.1,795.9 L1004.6,794.5 L1007.2,792.1 L1009.7,790.8 L1012.2,790.4 L1014.7,788.3 L1017.2,784.9 L1019.7,783.5 L1022.2,783.3 L1024.7,781.1 L1027.3,780.2 L1029.8,779.9 L1032.3,775.9 L1034.8,773.6 L1037.3,775.0 L1039.8,773.8 L1042.3,771.8 L1044.8,770.8 L1047.3,768.3 L1049.8,766.0 L1052.3,763.6 L1054.8,761.4 L1057.3,760.6 L1059.8,759.8 L1062.3,758.6 L1064.8,756.2 L1067.3,753.1 L1069.8,752.0 L1072.3,751.8 L1074.7,749.6 L1077.2,747.3 L1079.7,746.7 L1082.2,745.6 L1084.7,742.9 L1087.2,739.5 L1089.7,737.6 L1092.1,737.3 L1094.6,735.5 L1097.1,732.0 L1099.6,730.0 L1102.0,729.5 L1104.5,728.1 L1107.0,726.8 L1109.5,726.5 L1111.9,724.3 L1114.4,722.7 L1116.9,722.0 L1119.3,719.6 L1121.8,716.8 L1124.3,714.6 L1126.7,712.3 L1129.2,709.9 L1131.7,708.5 L1134.1,706.8 L1136.6,705.1 L1139.1,704.6 L1141.5,702.2 L1144.0,699.2 L1146.4,698.1 L1148.9,696.8 L1151.3,695.0 L1153.8,692.9 L1156.2,691.3 L1158.7,691.2 L1161.1,689.7 L1163.6,685.9 L1166.0,683.6 L1168.5,683.2 L1170.9,682.2 L1173.4,680.1 L1175.8,678.8 L1178.2,678.0 L1180.7,675.6 L1183.1,672.4 L1185.6,670.2 L1188.0,668.8 L1190.4,667.0 L1192.9,664.9 L1195.3,663.7 L1197.7,662.4 L1200.1,660.0 L1202.6,658.1 L1205.0,657.3 L1207.4,655.3 L1209.9,651.9 L1212.3,650.6 L1214.7,650.5 L1217.1,648.1 L1219.5,645.2 L1222.0,644.8 L1224.4,643.9 L1226.8,640.6 L1229.2,637.8 L1231.6,637.4 L1234.0,636.6 L1236.4,634.1 L1238.9,632.6 L1241.3,631.7 L1243.7,629.3 L1246.1,626.9 L1248.5,625.3 L1250.9,623.9 L1253.3,622.2 L1255.7,620.2 L1258.1,617.1 L1260.5,614.5 L1262.9,613.7 L1265.3,611.4 L1267.7,608.3 L1270.1,607.7 L1272.5,607.0 L1274.8,603.8 L1277.2,600.4 L1279.6,599.0 L1282.0,598.1 L1284.4,595.8 L1286.8,593.7 L1289.2,593.5 L1291.6,593.1 L1293.9,591.2 L1296.3,588.7 L1298.7,587.1 L1301.1,586.0 L1303.4,583.8 L1305.8,581.2 L1308.2,579.8 L1310.6,578.9 L1312.9,577.4 L1315.3,574.5 L1317.7,571.3 L1320.0,569.5 L1322.4,568.5 L1324.8,567.4 L1327.1,564.9 L1329.5,561.2 L1331.8,558.8 L1334.2,558.2 L1336.6,558.1 L1338.9,556.8 L1341.3,554.6 L1343.6,552.4 L1346.0,549.9 L1348.3,548.2 L1350.7,546.5 L1353.0,544.3 L1355.4,542.8 L1357.7,541.9 L1360.1,539.4 L1362.4,535.7 L1364.8,533.7 L1367.1,533.1 L1369.4,531.0 L1371.8,527.6 L1374.1,525.6 L1376.4,525.6 L1378.8,524.7 L1381.1,521.5 L1383.4,519.0 L1385.8,517.7 L1388.1,516.0 L1390.4,514.2 L1392.8,512.2 L1395.1,510.3 L1397.4,508.8 L1399.7,507.1 L1402.0,505.3 L1404.4,502.8 L1406.7,500.0 L1409.0,498.6 L1411.3,497.6 L1413.6,496.3 L1415.9,495.0 L1418.3,492.7 L1420.6,489.3 L1422.9,487.1 L1425.2,485.4 L1427.5,483.0 L1429.8,481.0 L1432.1,479.1 L1434.4,478.3 L1436.7,477.9 L1439.0,475.7 L1441.3,473.1 L1443.6,470.2 L1445.9,467.8 L1448.2,466.0 L1450.5,465.2 L1452.8,465.1 L1455.1,463.5 L1457.3,460.5 L1459.6,457.5 L1461.9,455.1 L1464.2,453.8 L1466.5,451.5 L1468.8,447.8 L1471.0,445.4 L1473.3,444.4 L1475.6,442.9 L1477.9,440.8 L1480.2,438.8 L1482.4,436.0 L1484.7,434.3 L1487.0,434.6 L1489.3,432.5 L1491.5,428.1 L1493.8,424.8 L1496.1,424.0 L1498.3,423.5 L1500.6,421.3 L1502.8,418.8 L1505.1,418.2 L1507.4,416.6 L1509.6,413.1 L1511.9,410.6 L1514.1,409.3 L1516.4,408.3 L1518.6,406.0 L1520.9,402.3 L1523.1,400.1 L1525.4,399.4 L1527.6,397.8 L1529.9,395.6 L1532.1,393.8 L1534.4,391.2 L1536.6,387.9 L1538.8,386.3 L1541.1,386.5 L1543.3,385.8 L1545.6,382.9 L1547.8,379.5 L1550.0,376.8 L1552.3,374.7 L1554.5,372.8 L1556.7,370.9 L1558.9,369.4 L1561.2,368.7 L1563.4,367.5 L1565.6,365.0 L1567.8,362.5 L1570.1,360.2 L1572.3,359.5 L1574.5,358.1 L1576.7,353.7 L1578.9,350.7 L1581.2,350.0 L1583.4,348.0 L1585.6,345.5 L1587.8,343.9 L1590.0,342.5 L1592.2,340.9 L1594.4,338.1 L1596.6,334.5 L1598.8,331.2 L1601.0,328.6 L1603.2,327.9 L1605.4,327.1 L1607.6,324.3 L1609.8,323.1 L1612.0,322.5 L1614.2,320.9 L1616.4,319.0 L1618.6,317.1 L1620.8,314.4 L1623.0,310.6 L1625.1,308.6 L1627.3,308.3 L1629.5,305.9 L1631.7,302.6 L1633.9,300.8 L1636.1,299.9 L1638.2,297.9 L1640.4,294.7 L1642.6,291.9 L1644.8,289.8 L1646.9,287.7 L1649.1,285.9 L1651.3,284.0 L1653.5,281.2 L1655.6,279.2 L1657.8,277.6 L1660.0,275.8 L1662.1,275.2 L1664.3,273.0 L1666.4,269.6 L1668.6,267.9 L1670.8,265.9 L1672.9,263.8 L1675.1,261.6 L1677.2,259.0 L1679.4,256.6 L1681.5,255.0 L1683.7,253.9 L1685.8,252.6 L1686.1,251.8"/>
</g>
<g fill="none" stroke-width="11.3" stroke-linecap="round">
<path stroke="#47b53f" d="M407.0,157.8 H566.8"/>
<path stroke="#1a78d6" d="M407.0,298.0 H566.8"/>
<path stroke="#000000" d="M407.0,441.8 H566.8"/>
<path stroke="#ffc400" d="M407.0,582.1 H566.8"/>
</g>
<text x="585.5" y="184.1" dx="0 0 0 -4 1.5 1.5" xml:space="preserve" style="white-space:pre">0% FFA</text>
<text x="585.3" y="327.8" dx="0 0 0 -2.5 -4.5">10%OA</text>
<text x="584.2" y="468.1" dx="0 0 0 -2.5 -4.5">20%OA</text>
<text x="584.5" y="607.8" dx="0 0 0 -2.5 -4.5">30%OA</text>
<text x="255" y="1275.8" text-anchor="end">0</text>
<text x="255" y="1108.4" text-anchor="end">1</text>
<text x="255" y="940.8" text-anchor="end">2</text>
<text x="255" y="771.8" text-anchor="end">3</text>
<text x="255" y="599.6" text-anchor="end">4</text>
<text x="255" y="431.6" text-anchor="end">5</text>
<text x="255" y="264.4" text-anchor="end">6</text>
<text x="255" y="96.0" text-anchor="end">7</text>
<text x="326.0" y="1376.6" text-anchor="middle">0</text>
<text x="704.2" y="1376.6" text-anchor="middle">100</text>
<text x="1080.0" y="1376.6" text-anchor="middle">200</text>
<text x="1456.0" y="1376.6" text-anchor="middle">300</text>
<text x="1832.8" y="1376.6" text-anchor="middle">400</text>
<text x="855.5" y="1487.5" dx="0 -0.5 -0.5 -0.5 -0.5 -0.5 2 0 0 0" xml:space="preserve" style="white-space:pre">Strain (%)</text>
<text transform="translate(87.6,851.2) rotate(-90)" dx="0 0 0 0 0 0 0 0 0 0 -1.2 0.7 -1" xml:space="preserve" style="white-space:pre">Stress  (MPa)</text>
</g>
</svg>
</body>
</html>
